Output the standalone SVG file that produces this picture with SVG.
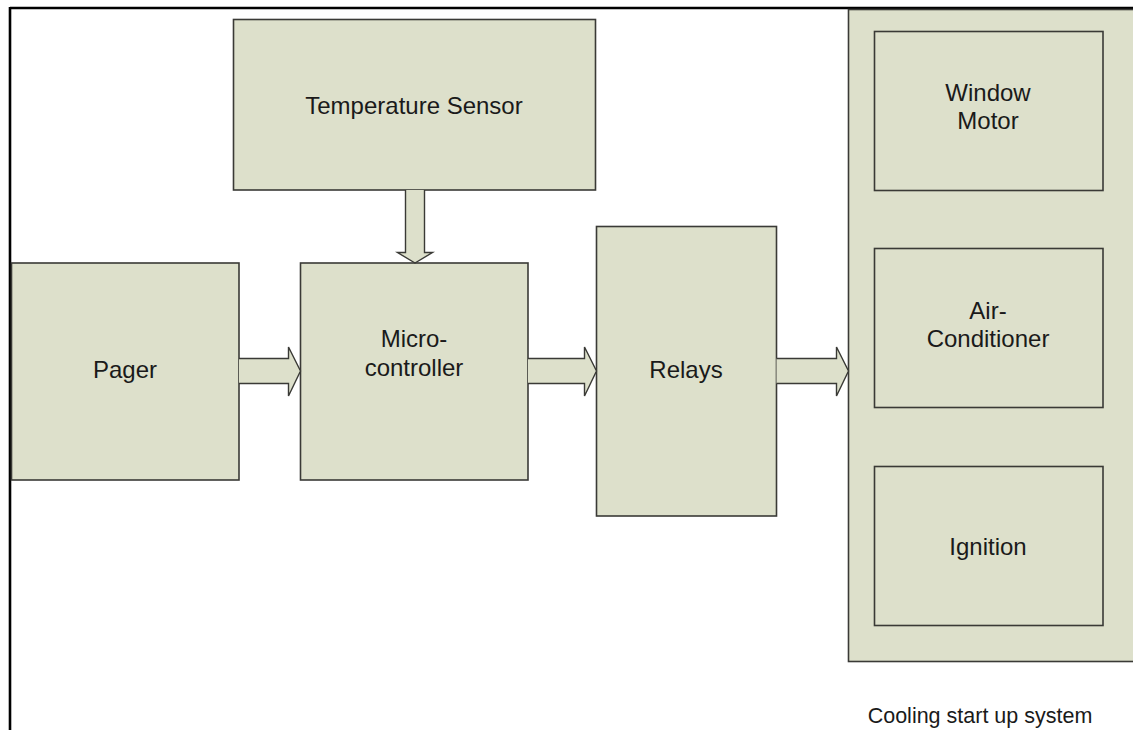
<svg xmlns="http://www.w3.org/2000/svg" width="1133" height="730" viewBox="0 0 1133 730">
<style>
.box{fill:#dde0cb;stroke:#3a3a36;stroke-width:1.6}
.arr{fill:#dde0cb;stroke:#3a3a36;stroke-width:1.4;stroke-linejoin:miter}
.lbl{font-family:"Liberation Sans",Arial,sans-serif;font-size:24px;fill:#1a1a1a;text-anchor:middle}
.cap{font-family:"Liberation Sans",Arial,sans-serif;font-size:21.5px;fill:#1a1a1a;text-anchor:middle}
</style>
<rect x="0" y="0" width="1133" height="730" fill="#ffffff"/>
<g id="frame">
<line x1="10" y1="8" x2="1133" y2="8" stroke="#000" stroke-width="2.6"/>
<line x1="10" y1="7" x2="10" y2="730" stroke="#000" stroke-width="2.6"/>
</g>
<g id="cooling-system">
<rect class="box" x="848.5" y="9.5" width="290" height="652"/>
<text class="cap" x="980" y="723">Cooling start up system</text>
</g>
<g id="temperature-sensor">
<rect class="box" x="233.5" y="19.5" width="362" height="170.5"/>
<text class="lbl" x="414" y="114">Temperature Sensor</text>
</g>
<g id="pager">
<rect class="box" x="11.5" y="263" width="227.5" height="217"/>
<text class="lbl" x="125" y="378">Pager</text>
</g>
<g id="microcontroller">
<rect class="box" x="300.5" y="263" width="227.5" height="217"/>
<text class="lbl" x="414" y="347">Micro-</text>
<text class="lbl" x="414" y="376">controller</text>
</g>
<g id="relays">
<rect class="box" x="596.5" y="226.5" width="180" height="289.5"/>
<text class="lbl" x="686" y="378">Relays</text>
</g>
<g id="window-motor">
<rect class="box" x="874.5" y="31.5" width="228.5" height="159"/>
<text class="lbl" x="988" y="101">Window</text>
<text class="lbl" x="988" y="129">Motor</text>
</g>
<g id="air-conditioner">
<rect class="box" x="874.5" y="248.5" width="228.5" height="159"/>
<text class="lbl" x="988" y="319">Air-</text>
<text class="lbl" x="988" y="347">Conditioner</text>
</g>
<g id="ignition">
<rect class="box" x="874.5" y="466.5" width="228.5" height="159"/>
<text class="lbl" x="988" y="555">Ignition</text>
</g>
<g id="connectors">
<path class="arr" d="M405.5,190 L405.5,252.5 L397.5,252.5 L415,263 L432.5,252.5 L424.5,252.5 L424.5,190"/>
<path class="arr" d="M239,358.5 L288.5,358.5 L288.5,347 L300.5,371 L288.5,396 L288.5,383.5 L239,383.5"/>
<path class="arr" d="M528,358.5 L584.5,358.5 L584.5,347 L596.5,371 L584.5,396 L584.5,383.5 L528,383.5"/>
<path class="arr" d="M776.5,358.5 L836.5,358.5 L836.5,347 L848.5,371 L836.5,396 L836.5,383.5 L776.5,383.5"/>
</g>
</svg>
